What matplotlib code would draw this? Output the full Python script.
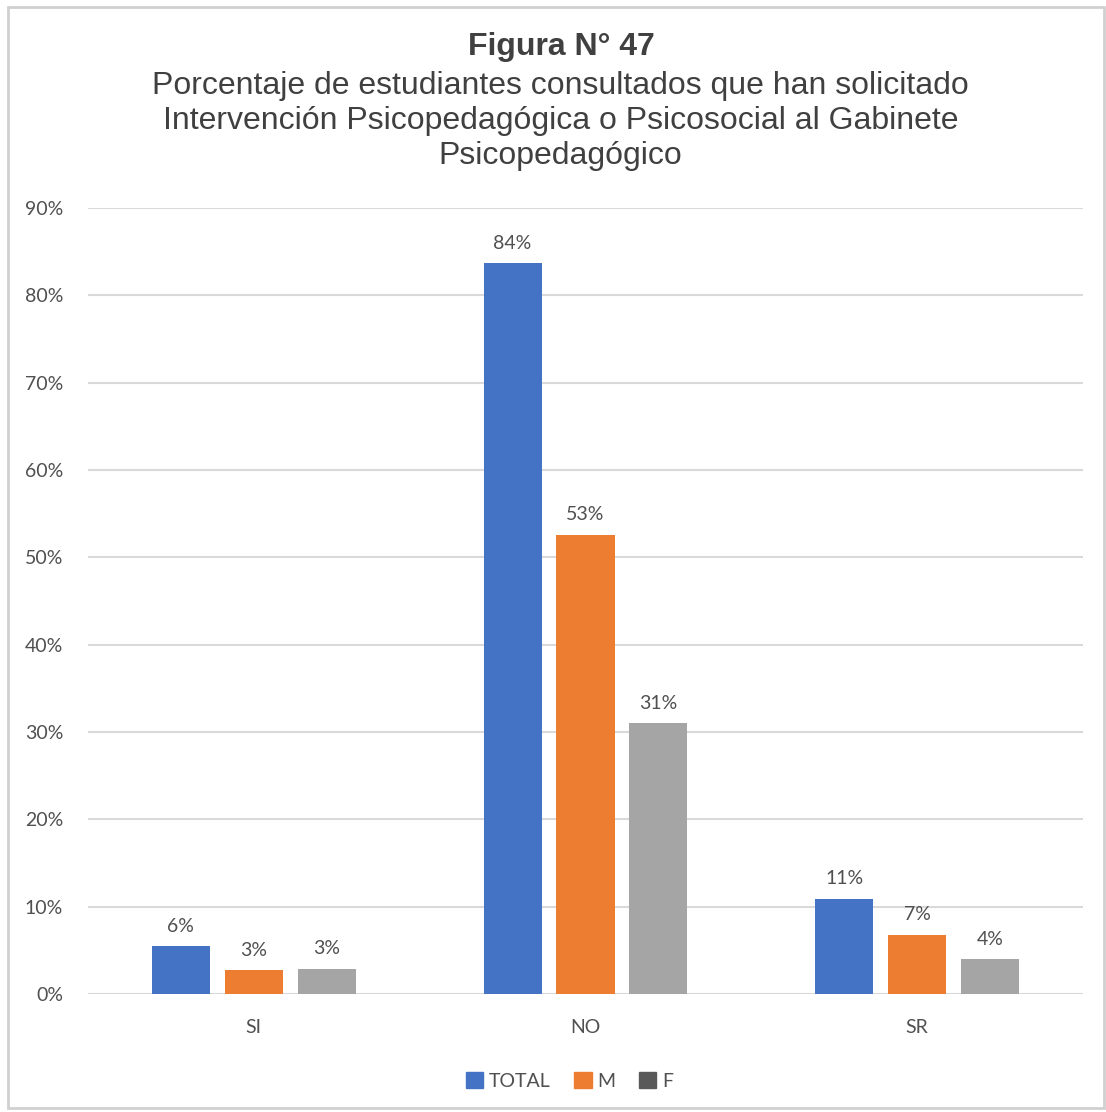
import numpy as np
import matplotlib.pyplot as plt
from matplotlib.patches import Rectangle, Patch

categories = ['SI', 'NO', 'SR']
series_names = ['TOTAL', 'M', 'F']
total_vals = [5.5, 83.7, 10.9]
m_vals = [2.7, 52.6, 6.8]
f_vals = [2.9, 31.0, 4.0]
labels_total = ['6%', '84%', '11%']
labels_m = ['3%', '53%', '7%']
labels_f = ['3%', '31%', '4%']

colors = ['#4472C4', '#ED7D31', '#A5A5A5']

fig = plt.figure(figsize=(11.06, 11.12), dpi=100)
fig.patches.append(Rectangle((0.007, 0.004), 0.991, 0.99, transform=fig.transFigure,
                             fill=False, edgecolor='#D0D0D0', linewidth=2))

ax = fig.add_axes([88 / 1106, 1 - 994 / 1112, 995 / 1106, (994 - 208) / 1112])

x = np.arange(len(categories))
width = 0.175
step = 0.22
tick_font = 'Lato'
txt_col = '#505050'
for i, (vals, labs) in enumerate(zip([total_vals, m_vals, f_vals], [labels_total, labels_m, labels_f])):
    pos = x + (i - 1) * step
    bars = ax.bar(pos, vals, width, color=colors[i], zorder=3)
    for b, lab in zip(bars, labs):
        ax.text(b.get_x() + b.get_width() / 2, b.get_height() + 1.3, lab,
                ha='center', va='bottom', fontsize=14, color=txt_col, family=tick_font)

ax.set_xlim(-0.5, 2.5)
ax.set_ylim(0, 90)
ax.set_yticks(range(0, 91, 10))
ax.set_yticklabels([f'{v}%' for v in range(0, 91, 10)], fontsize=14, color=txt_col, family=tick_font)
ax.set_xticks(x)
ax.set_xticklabels(categories, fontsize=14, color=txt_col, family=tick_font)
ax.tick_params(length=0)
ax.tick_params(axis='x', pad=18)
ax.tick_params(axis='y', pad=18)
ax.grid(axis='y', color='#D9D9D9', linewidth=1.5, zorder=0)
for s in ax.spines.values():
    s.set_visible(False)

fig.text(0.508, 1 - 47 / 1112, 'Figura N° 47', ha='center', va='center',
         fontsize=23, fontweight='bold', color='#404040', family='Liberation Sans')
fig.text(0.507, 1 - 121 / 1112,
         'Porcentaje de estudiantes consultados que han solicitado\n'
         'Intervención Psicopedagógica o Psicosocial al Gabinete\n'
         'Psicopedagógico',
         ha='center', va='center', fontsize=23, color='#404040',
         family='Liberation Sans', linespacing=1.22)

handles = [Patch(color=colors[0]), Patch(color=colors[1]), Patch(color='#595959')]
fig.legend(handles, series_names, loc='center', bbox_to_anchor=(0.515, 1 - 1081 / 1112),
           ncol=3, frameon=False, prop={'family': tick_font, 'size': 14},
           handlelength=0.9, handleheight=0.9, handletextpad=0.3, columnspacing=1.2,
           labelcolor=txt_col)

fig.savefig('out.png', dpi=100)
